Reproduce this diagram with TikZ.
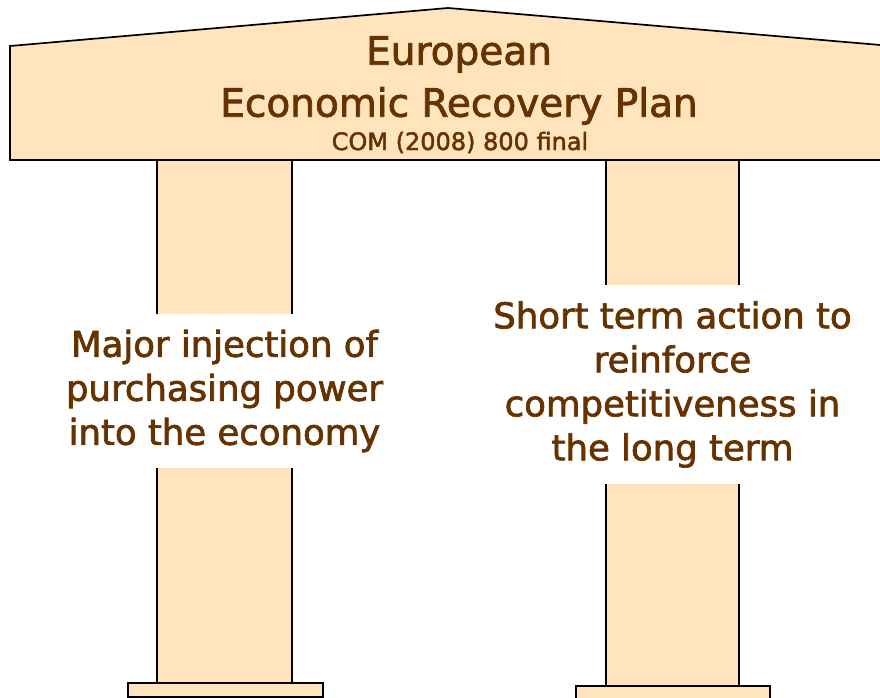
\documentclass[tikz,border=0pt]{standalone}
\usepackage{fontspec}
\setmainfont{DejaVu Sans}
\newfontfamily\planfont{DejaVu Sans}[FakeBold=2]
\definecolor{pillarfill}{RGB}{255,228,189}
\definecolor{textbrown}{RGB}{102,51,0}
\begin{document}
\begin{tikzpicture}[x=1pt,y=-1pt,
	pillar/.style={draw=black, line width=1.7pt, fill=pillarfill},
	pillartext/.style={fill=white, text=textbrown, align=center, inner sep=0pt, font=\planfont\fontsize{35.5}{44}\selectfont}]
	\useasboundingbox (0,0) rectangle (880,698);
	\clip (0,0) rectangle (880,698);
	% Columns first
	\draw[pillar] (157,160) rectangle (292,683);
	\draw[pillar] (606,160) rectangle (739,686);
	% Roof
	\draw[pillar, line join=miter] (10,160) -- (10,46) -- (448,8) -- (892,46) -- (892,160) -- cycle;
	% Bases
	\draw[pillar] (128,683) rectangle (323,697);
	\draw[pillar] (576,686) rectangle (770,706);
	% Title
	\node[text=textbrown, align=center, inner sep=0pt, font=\planfont\fontsize{39}{52}\selectfont] (title) at (459,80.5) {European\\Economic Recovery Plan};
	\node[text=textbrown, inner sep=0pt, anchor=base, font=\planfont\fontsize{24}{28}\selectfont] (com) at (460,150) {COM (2008) 800 final};
	% Texts on the columns
	\node[pillartext, minimum height=154pt] (inject) at (224.5,391) {Major injection of\\purchasing power\\into the economy};
	\node[pillartext, minimum height=199pt] (action) at (672.5,384.5) {Short term action to\\reinforce\\competitiveness in\\the long term};
\end{tikzpicture}
\end{document}
